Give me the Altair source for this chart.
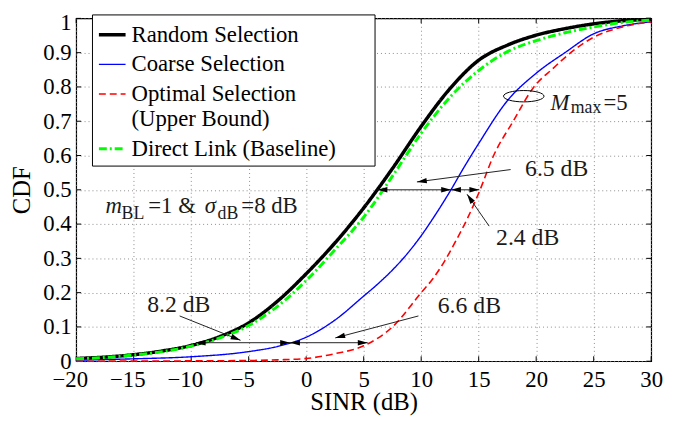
import math
import altair as alt
import pandas as pd

PLOT_LEFT, PLOT_TOP = 69, 8          # offsets inside the svg
W, H = 582, 347
XMIN, XMAX = -20, 30
YMIN, YMAX = 0, 1
FONT = "Liberation Serif"

names = ["Random Selection", "Coarse Selection", "Optimal Selection", "Direct Link (Baseline)"]
colors = ["#000000", "#0000ff", "#ff0000", "#00ff00"]
dashes = [[1, 0], [1, 0], [7, 4], [8, 3, 2, 3]]
widths = [3.5, 1.4, 1.6, 3.0]

x_ticks = [-20, -15, -10, -5, 0, 5, 10, 15, 20, 25, 30]
y_ticks = [0, 0.1, 0.2, 0.3, 0.4, 0.5, 0.6, 0.7, 0.8, 0.9, 1.0]

random_x = [-20, -17.5, -15, -12.5, -10, -7.5, -5, -2.5, 0, 2.5, 5, 7.5, 10, 12.5, 15, 17.5, 20, 22.5, 25, 27.5, 30]
random_y = [0.008, 0.012, 0.019, 0.03, 0.046, 0.072, 0.112, 0.175, 0.255, 0.345, 0.447, 0.562, 0.685, 0.795, 0.878, 0.922, 0.951, 0.970, 0.984, 0.993, 0.997]

coarse_x = [-20, -15, -10, -5, -2.5, 0, 2.5, 5, 6.25, 7.5, 8.75, 10, 11.25, 12.5, 13.75, 15, 17.5, 20, 22.5, 25, 27.5, 30]
coarse_y = [0.003, 0.007, 0.013, 0.028, 0.043, 0.07, 0.12, 0.19, 0.226, 0.266, 0.312, 0.366, 0.428, 0.495, 0.567, 0.635, 0.76, 0.84, 0.9, 0.955, 0.978, 0.99]

optimal_x = [-20, -10, -5, -2.5, 0, 2.5, 5, 7.5, 10, 11, 12, 13, 14, 15, 16.3, 18, 19.8, 21.5, 23, 25, 27.5, 30]
optimal_y = [0.0, 0.001, 0.002, 0.004, 0.008, 0.022, 0.045, 0.1, 0.2, 0.24, 0.29, 0.35, 0.415, 0.49, 0.6, 0.7, 0.8, 0.855, 0.9, 0.945, 0.975, 0.99]

direct_x = random_x
direct_y = [0.007, 0.011, 0.018, 0.028, 0.044, 0.068, 0.104, 0.16, 0.235, 0.325, 0.42, 0.54, 0.665, 0.77, 0.848, 0.903, 0.935, 0.958, 0.975, 0.988, 0.995]

# annotations (data coordinates)
label_text = ["8.2 dB", "6.6 dB", "6.5 dB", "2.4 dB"]
label_x = [-11.08, 14.19, 21.78, 19.26]
label_y = [0.163, 0.161, 0.559, 0.359]

rich_text = ["M", "max", "=5", "m", "BL", "=1 &", "\u03c3", "dB", "=8 dB"]
rich_x = [21.24, 23.0, 25.85, -17.45, -16.05, -13.73, -8.83, -7.71, -5.64]
rich_y = [0.734, 0.724, 0.734, 0.432, 0.416, 0.432, 0.432, 0.416, 0.432]
rich_italic = [True, False, False, True, False, False, True, False, False]
rich_size = [23, 18, 23, 23, 18, 23, 23, 18, 23]

# pointer arrows: start -> tip
ptr_x0 = [-11.0, 9.76, 17.78, 15.91]
ptr_y0 = [0.132, 0.132, 0.559, 0.394]
ptr_x1 = [-5.71, 2.53, 9.63, 13.99]
ptr_y1 = [0.061, 0.068, 0.523, 0.487]

# double-headed horizontal arrows
dbl_a = [6.2, 12.6, -9.6, -1.4]
dbl_b = [12.6, 15.05, -1.4, 5.35]
dbl_y = [0.5, 0.5, 0.054, 0.054]

ellipse_x = [18.92]
ellipse_y = [0.773]

rows = []
for name, xs, ys in zip(names, [random_x, coarse_x, optimal_x, direct_x],
                        [random_y, coarse_y, optimal_y, direct_y]):
    for i, (a, b) in enumerate(zip(xs, ys)):
        rows.append({"series": name, "x": a, "y": b, "k": i})
curves = pd.DataFrame(rows)

sx = W / (XMAX - XMIN)
sy = H / (YMAX - YMIN)


def ang(x0, y0, x1, y1):
    dx = (x1 - x0) * sx
    dy = -(y1 - y0) * sy
    return math.degrees(math.atan2(dy, dx)) % 360


heads = []
for a, b, y in zip(dbl_a, dbl_b, dbl_y):
    heads.append({"x": a, "y": y, "a": 180})
    heads.append({"x": b, "y": y, "a": 0})
for x0, y0, x1, y1 in zip(ptr_x0, ptr_y0, ptr_x1, ptr_y1):
    heads.append({"x": x1, "y": y1, "a": ang(x0, y0, x1, y1)})
heads = pd.DataFrame(heads)

segs = pd.DataFrame({"x": dbl_a, "x2": dbl_b, "y": dbl_y})
ptrs = pd.DataFrame({"x": ptr_x0, "y": ptr_y0, "x2": ptr_x1, "y2": ptr_y1})
labels = pd.DataFrame({"x": label_x, "y": label_y, "t": label_text})
rich = pd.DataFrame({"x": rich_x, "y": rich_y, "t": rich_text, "it": rich_italic, "s": rich_size})
ell = pd.DataFrame({"x": ellipse_x, "y": ellipse_y})
xt = pd.DataFrame({"x": x_ticks})
yt = pd.DataFrame({"y": y_ticks})

xscale = alt.Scale(domain=[XMIN, XMAX], nice=False, zero=False)
yscale = alt.Scale(domain=[YMIN, YMAX], nice=False, zero=False)

common_axis = dict(
    format="~g", grid=True, gridColor="#8c8c8c", gridDash=[1, 3], gridWidth=1,
    ticks=False, tickSize=0, domain=False, labelFont=FONT, labelFontSize=23,
    labelColor="black", labelFlush=False, labelOverlap=False,
    titleFont=FONT, titleFontSize=25, titleFontWeight="normal", titleColor="black",
)
xaxis = alt.Axis(values=x_ticks, labelPadding=8,
                 labelOffset={"condition": {"test": "datum.value < 0", "value": -6.5}, "value": 0},
                 titleY=41, titleBaseline="middle", **common_axis)
yaxis = alt.Axis(values=y_ticks, labelPadding=5,
                 labelOffset={"condition": {"test": "datum.value > 0.99", "value": 4}, "value": 0},
                 titleX=-55, titleY=H / 2, titleBaseline="middle", **common_axis)


def X(f="x"):
    return alt.X(f"{f}:Q", scale=xscale, axis=xaxis, title="SINR (dB)")


def Y(f="y"):
    return alt.Y(f"{f}:Q", scale=yscale, axis=yaxis, title="CDF")


NB = "\u00a0"
BLANK = "\u2800"
legend = alt.Legend(
    title=None, orient="none", legendX=16, legendY=-4, fillColor="white",
    strokeColor="black", padding=5, symbolType="stroke", symbolSize=729,
    labelFont=FONT, labelFontSize=23, labelColor="black", labelLimit=600,
    rowPadding=3, labelOffset=4,
    labelExpr=("datum.label == 'Optimal Selection' ? ['Optimal Selection', '" + NB + "(Upper Bound)'] : "
               "datum.label == 'Direct Link (Baseline)' ? 'Direct Link (Baseline)" + BLANK * 2 + "' : datum.label"),
)

lines = alt.Chart(curves).mark_line(interpolate="monotone").encode(
    x=X(), y=Y(),
    color=alt.Color("series:N", scale=alt.Scale(domain=names, range=colors), legend=legend),
    strokeDash=alt.StrokeDash("series:N", scale=alt.Scale(domain=names, range=dashes), legend=legend),
    strokeWidth=alt.StrokeWidth("series:N", scale=alt.Scale(type="ordinal", domain=names, range=widths), legend=legend),
    order="k:Q",
)

tick_len = 5
ticks_b = alt.Chart(xt).mark_rule(color="black", strokeWidth=1).encode(
    x=X(), y=alt.value(H), y2=alt.value(H - tick_len))
ticks_t = alt.Chart(xt).mark_rule(color="black", strokeWidth=1).encode(
    x=X(), y=alt.value(0), y2=alt.value(tick_len))
ticks_l = alt.Chart(yt).mark_rule(color="black", strokeWidth=1).encode(
    y=Y(), x=alt.value(0), x2=alt.value(tick_len))
ticks_r = alt.Chart(yt).mark_rule(color="black", strokeWidth=1).encode(
    y=Y(), x=alt.value(W), x2=alt.value(W - tick_len))

seg_layer = alt.Chart(segs).mark_rule(color="#222222", strokeWidth=1).encode(
    x=X(), x2="x2:Q", y=Y())
ptr_layer = alt.Chart(ptrs).mark_rule(color="#222222", strokeWidth=1).encode(
    x=X(), x2="x2:Q", y=Y(), y2="y2:Q")
HEAD = "M0,0L-2,-0.55L-2,0.55Z"
head_layer = alt.Chart(heads).mark_point(
    shape=HEAD, filled=True, size=100, opacity=1, color="black", strokeWidth=0
).encode(x=X(), y=Y(), angle=alt.Angle("a:Q", scale=None))

ell_layer = alt.Chart(ell).mark_point(
    shape="M-1,0A1,0.28,0,1,0,1,0A1,0.28,0,1,0,-1,0Z", filled=False, size=1681,
    opacity=1, color="black", strokeWidth=1
).encode(x=X(), y=Y())

label_layer = alt.Chart(labels).mark_text(
    font=FONT, fontSize=24, color="#1a1a1a", align="center", baseline="middle"
).encode(x=X(), y=Y(), text="t:N")

rich_it = alt.Chart(rich[rich["it"]]).mark_text(
    font=FONT, fontStyle="italic", color="#1a1a1a", align="left", baseline="alphabetic"
).encode(x=X(), y=Y(), text="t:N", size=alt.Size("s:Q", scale=None))
rich_up = alt.Chart(rich[~rich["it"]]).mark_text(
    font=FONT, color="#1a1a1a", align="left", baseline="alphabetic"
).encode(x=X(), y=Y(), text="t:N", size=alt.Size("s:Q", scale=None))

chart = alt.layer(
    ticks_b, ticks_t, ticks_l, ticks_r, lines, seg_layer, ptr_layer, head_layer,
    ell_layer, label_layer, rich_it, rich_up
).properties(
    width=W, height=H,
    autosize=alt.AutoSizeParams(type="none"),
    padding={"left": PLOT_LEFT, "top": PLOT_TOP, "right": 15, "bottom": 58},
    background="white",
).configure(font=FONT).configure_view(stroke="black", strokeWidth=1.2)

chart.save("out.html", embed_options={"renderer": "svg", "actions": False})
